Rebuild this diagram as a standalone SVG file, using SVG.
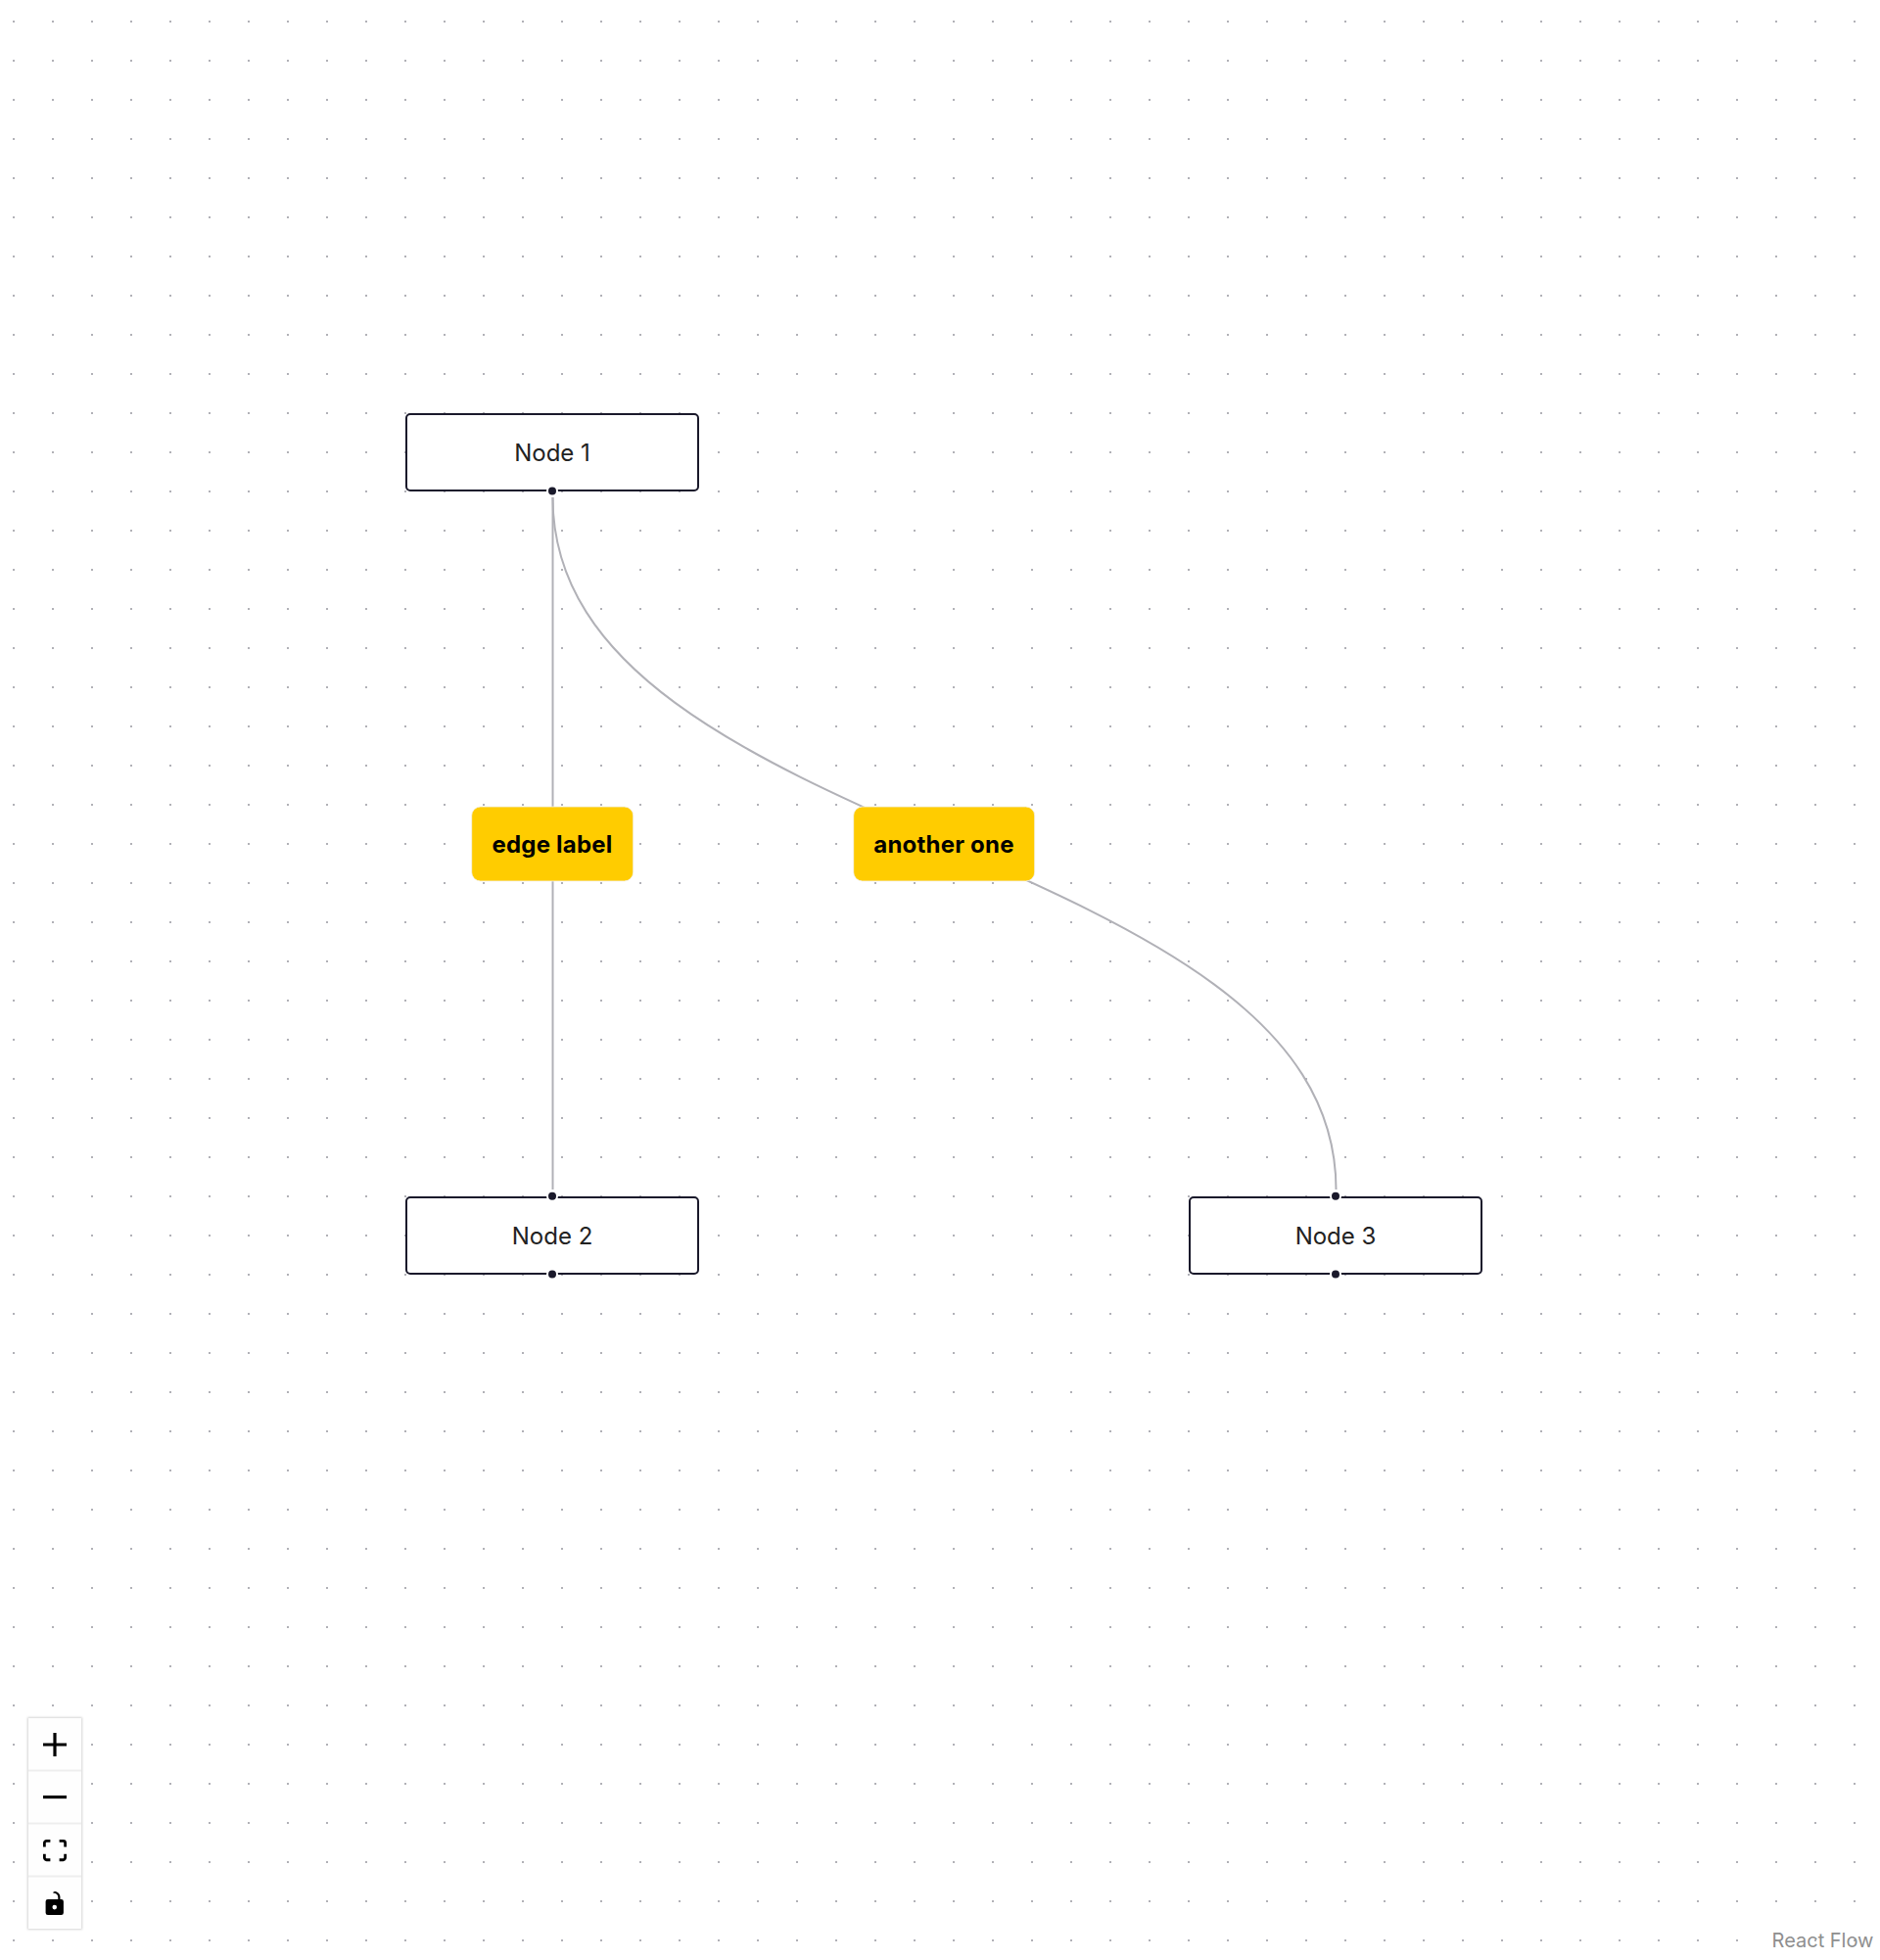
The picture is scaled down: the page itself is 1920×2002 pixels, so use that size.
<svg xmlns="http://www.w3.org/2000/svg" width="1920" height="2002" viewBox="0 0 1920 2002">
  <style>
    text { font-family: Inter, "Liberation Sans", sans-serif; text-anchor: middle; }
    .node-box { fill: #fff; stroke: #1a192b; stroke-width: 2; }
    .node-label { font-size: 24px; fill: #222222; }
    .handle { fill: #1a192b; stroke: #fff; stroke-width: 2; }
    .edge { fill: none; stroke: #b1b1b7; stroke-width: 2; }
    .edge-tag { fill: #ffcc00; stroke: #f2f2f2; stroke-width: 0.8; }
    .edge-label { font-size: 24px; font-weight: 700; fill: #000; letter-spacing: 0.2px; }
    .ctrl { fill: #fefefe; }
    .ctrl-sep { stroke: #eeeeee; stroke-width: 2; }
    .brand { font-size: 20px; fill: #8f8f8f; }
  </style>
  <defs>
    <pattern id="dots" x="13" y="21" width="40" height="40" patternUnits="userSpaceOnUse">
      <rect width="2" height="2" fill="#b1b1b7"/>
    </pattern>
    <filter id="panelShadow" x="-30%" y="-10%" width="160%" height="120%">
      <feGaussianBlur stdDeviation="1.3"/>
    </filter>
  </defs>

  <rect width="1920" height="2002" fill="#fff"/>
  <rect id="background-dots" width="1920" height="2002" fill="url(#dots)"/>

  <g id="connectors">
    <path id="edge-1-2" class="edge" d="M564.5 508V1215"/>
    <path id="edge-1-3" class="edge" d="M564.5 508C564.5 861.5 1364.5 861.5 1364.5 1215"/>
  </g>

  <g id="edge-label-1">
    <rect class="edge-tag" x="481.7" y="824" width="165" height="76" rx="9"/>
    <text class="edge-label" x="564" y="871">edge label</text>
  </g>
  <g id="edge-label-2">
    <rect class="edge-tag" x="871.7" y="824" width="185" height="76" rx="9"/>
    <text class="edge-label" x="964" y="871">another one</text>
  </g>

  <g id="node-1">
    <rect class="node-box" x="415" y="423" width="298" height="78" rx="4"/>
    <text class="node-label" x="564" y="471">Node 1</text>
    <circle class="handle" cx="564" cy="501.5" r="5"/>
  </g>
  <g id="node-2">
    <rect class="node-box" x="415" y="1223" width="298" height="78" rx="4"/>
    <text class="node-label" x="564" y="1271">Node 2</text>
    <circle class="handle" cx="564" cy="1221.7" r="5"/>
    <circle class="handle" cx="564" cy="1301.5" r="5"/>
  </g>
  <g id="node-3">
    <rect class="node-box" x="1215" y="1223" width="298" height="78" rx="4"/>
    <text class="node-label" x="1364" y="1271">Node 3</text>
    <circle class="handle" cx="1364" cy="1221.7" r="5"/>
    <circle class="handle" cx="1364" cy="1301.5" r="5"/>
  </g>

  <g id="controls">
    <rect x="28" y="1754" width="56" height="217" fill="#000" opacity="0.16" filter="url(#panelShadow)"/>
    <rect class="ctrl" x="29" y="1755" width="54" height="215"/>
    <path class="ctrl-sep" d="M29 1808.5H83M29 1862.5H83M29 1916.5H83"/>
    <path transform="translate(44 1770) scale(.75)" d="M32 18.133H18.133V32h-4.266V18.133H0v-4.266h13.867V0h4.266v13.867H32z"/>
    <path transform="translate(44 1834) scale(.75)" d="M0 0h32v4.2H0z"/>
    <path transform="translate(44 1879) scale(.75)" d="M3.692 4.63c0-.53.4-.938.939-.938h5.215V0H4.708C2.13 0 0 2.054 0 4.63v5.216h3.692V4.631zM27.354 0h-5.2v3.692h5.17c.53 0 .984.4.984.939v5.215H32V4.631A4.624 4.624 0 0027.354 0zm.954 24.83c0 .532-.4.94-.939.94h-5.215v3.768h5.215c2.577 0 4.631-2.13 4.631-4.707v-5.139h-3.692v5.139zm-23.677.94c-.531 0-.939-.4-.939-.94v-5.138H0v5.139c0 2.577 2.13 4.707 4.708 4.707h5.138V25.77H4.631z"/>
    <path transform="translate(46.6 1932) scale(.75)" d="M21.333 10.667H19.81V7.619C19.81 3.429 16.38 0 12.19 0c-4.114 1.828-1.37 2.133.305 2.438 1.676.305 4.42 2.59 4.42 5.181v3.048H3.047A3.056 3.056 0 000 13.714v15.238A3.056 3.056 0 003.048 32h18.285a3.056 3.056 0 003.048-3.048V13.714a3.056 3.056 0 00-3.048-3.047zM12.19 24.533a3.056 3.056 0 01-3.047-3.047 3.056 3.056 0 013.047-3.048 3.056 3.056 0 013.048 3.048 3.056 3.056 0 01-3.048 3.047z"/>
  </g>

  <text id="attribution" class="brand" x="1861.5" y="1989">React Flow</text>
</svg>
